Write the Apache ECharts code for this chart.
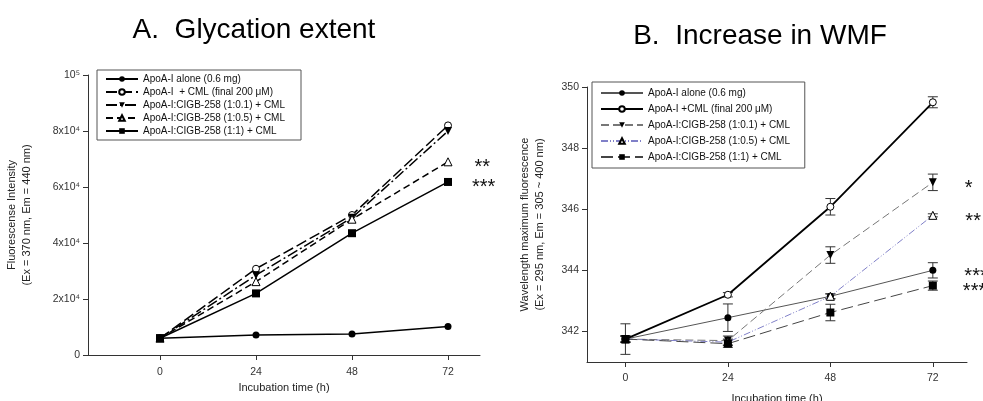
<!DOCTYPE html>
<html>
<head>
<meta charset="utf-8">
<script src="https://cdn.jsdelivr.net/npm/echarts@6/dist/echarts.min.js"></script>
<style>
  html, body { margin: 0; padding: 0; background: #fff; }
  #chart { width: 983px; height: 401px; }
</style>
</head>
<body>
<div id="chart"></div>
<script>
// incubation times (h)
var times = [0, 24, 48, 72];

// A. glycation extent (fluorescence intensity)
var namesA = [
  'ApoA-I alone (0.6 mg)',
  'ApoA-I  + CML (final 200 μM)',
  'ApoA-I:CIGB-258 (1:0.1) + CML',
  'ApoA-I:CIGB-258 (1:0.5) + CML',
  'ApoA-I:CIGB-258 (1:1) + CML'
];
var aloneA = [6000, 7100, 7500, 10200];
var cmlA = [6000, 30800, 50000, 82000];
var cigb01A = [6000, 28500, 49000, 80000];
var cigb05A = [6000, 26200, 48500, 69000];
var cigb1A = [6000, 22000, 43500, 61800];
var starsA = ['', '', '', '**', '***'];

// B. increase in WMF (wavelength maximum fluorescence, nm)
var namesB = [
  'ApoA-I alone (0.6 mg) ',
  'ApoA-I +CML (final 200 μM)',
  'ApoA-I:CIGB-258 (1:0.1) + CML ',
  'ApoA-I:CIGB-258 (1:0.5) + CML ',
  'ApoA-I:CIGB-258 (1:1) + CML '
];
var aloneB = [341.75, 342.45, 343.15, 344.0];
var cmlB = [341.75, 343.2, 346.08, 349.5];
var cigb01B = [341.75, 341.7, 344.5, 346.88];
var cigb05B = [341.75, 341.65, 343.15, 345.8];
var cigb1B = [341.75, 341.6, 342.62, 343.5];
var aloneErrB = [0.5, 0.45, 0.08, 0.25];
var cmlErrB = [0.1, 0.07, 0.27, 0.18];
var cigb01ErrB = [0.1, 0.15, 0.27, 0.27];
var cigb05ErrB = [0.1, 0.1, 0.08, 0.05];
var cigb1ErrB = [0.1, 0.12, 0.27, 0.15];
var starsB = ['***', '', '*', '**', '***'];

var yTicksA = [0, 20000, 40000, 60000, 80000, 100000];
var yTickLabelsA = ['0', '2x10⁴', '4x10⁴', '6x10⁴', '8x10⁴', '10⁵'];
var yTicksB = [342, 344, 346, 348, 350];

var FONT = 'Liberation Sans, Arial, sans-serif';

function pts(vals, star, dist) {
  return times.map(function (t, i) {
    var d = { value: [t, vals[i]] };
    if (star && i === times.length - 1) {
      d.label = {
        show: true, position: 'right', distance: dist, formatter: star,
        fontSize: 20, color: '#111', fontFamily: FONT, offset: [0, 6]
      };
    }
    return d;
  });
}

function errData(vals, errs) {
  return times.map(function (t, i) { return [t, vals[i], errs[i]]; });
}

function renderErr(params, api) {
  var x = api.value(0), y = api.value(1), e = api.value(2);
  var top = api.coord([x, y + e]);
  var bot = api.coord([x, y - e]);
  var w = 5;
  var st = { stroke: '#333', lineWidth: 1 };
  return {
    type: 'group',
    children: [
      { type: 'line', shape: { x1: top[0], y1: top[1], x2: bot[0], y2: bot[1] }, style: st },
      { type: 'line', shape: { x1: top[0] - w, y1: top[1], x2: top[0] + w, y2: top[1] }, style: st },
      { type: 'line', shape: { x1: bot[0] - w, y1: bot[1], x2: bot[0] + w, y2: bot[1] }, style: st }
    ]
  };
}

var axisCommon = {
  axisLine: { show: true, onZero: false, lineStyle: { color: '#333', width: 1 } },
  axisTick: { show: true, length: 5, lineStyle: { color: '#333' } },
  axisLabel: { color: '#333', fontSize: 10.5, fontFamily: FONT },
  splitLine: { show: false },
  nameTextStyle: { color: '#222', fontSize: 11, fontFamily: FONT }
};

function axis(extra) {
  return echarts.util.merge(echarts.util.clone(axisCommon), extra, true);
}

var openStyle = { color: '#fff', borderColor: '#000', borderWidth: 1 };

var chart = echarts.init(document.getElementById('chart'));
chart.setOption({
  animation: false,
  textStyle: { fontFamily: FONT },
  graphic: [
    { type: 'text', x: 254, y: 30, style: { text: 'A.  Glycation extent', font: '28px ' + FONT, fill: '#000', align: 'center', verticalAlign: 'middle' } },
    { type: 'text', x: 760, y: 36, style: { text: 'B.  Increase in WMF', font: '28px ' + FONT, fill: '#000', align: 'center', verticalAlign: 'middle' } }
  ],
  grid: [
    { left: 88, top: 75, width: 392, height: 280, outerBoundsMode: 'none', containLabel: false },
    { left: 587, top: 87, width: 380, height: 275, outerBoundsMode: 'none', containLabel: false }
  ],
  legend: [
    {
      data: namesA, left: 97, top: 70, orient: 'vertical',
      itemWidth: 32, itemHeight: 7, itemGap: 3,
      padding: [4, 16, 4, 8],
      borderColor: '#555', borderWidth: 1, selectedMode: false,
      textStyle: { fontSize: 10, color: '#111', fontFamily: FONT }
    },
    {
      data: namesB, left: 592, top: 82, orient: 'vertical',
      itemWidth: 42, itemHeight: 7, itemGap: 6,
      padding: [6, 12, 6, 8],
      borderColor: '#555', borderWidth: 1, selectedMode: false,
      textStyle: { fontSize: 10, color: '#111', fontFamily: FONT }
    }
  ],
  xAxis: [
    axis({
      type: 'value', gridIndex: 0, min: -18, max: 80,
      name: 'Incubation time (h)', nameLocation: 'middle', nameGap: 27,
      axisTick: { customValues: times }, axisLabel: { customValues: times, margin: 12 }
    }),
    axis({
      type: 'value', gridIndex: 1, min: -9, max: 80,
      name: 'Incubation time (h)', nameLocation: 'middle', nameGap: 31,
      axisTick: { customValues: times }, axisLabel: { customValues: times, margin: 11 }
    })
  ],
  yAxis: [
    axis({
      type: 'value', gridIndex: 0, min: 0, max: 100000,
      name: 'Fluorescense Intensity\n(Ex = 370 nm, Em = 440 nm)',
      nameLocation: 'middle', nameGap: 54,
      nameTextStyle: { lineHeight: 15 },
      axisTick: { customValues: yTicksA },
      axisLabel: {
        customValues: yTicksA,
        formatter: function (v) { return yTickLabelsA[yTicksA.indexOf(v)]; }
      }
    }),
    axis({
      type: 'value', gridIndex: 1, min: 341, max: 350,
      name: 'Wavelength maximum fluorescence\n(Ex = 295 nm, Em = 305 ~ 400 nm)',
      nameLocation: 'middle', nameGap: 40,
      nameTextStyle: { lineHeight: 15 },
      axisTick: { customValues: yTicksB },
      axisLabel: { customValues: yTicksB }
    })
  ],
  series: [
    // ---- A ----
    { name: namesA[0], type: 'line', xAxisIndex: 0, yAxisIndex: 0, data: pts(aloneA, starsA[0], 22),
      symbol: 'circle', symbolSize: 7, itemStyle: { color: '#000' }, lineStyle: { color: '#000', width: 1.5 } },
    { name: namesA[1], type: 'line', xAxisIndex: 0, yAxisIndex: 0, data: pts(cmlA, starsA[1], 22),
      symbol: 'circle', symbolSize: 7, itemStyle: openStyle, lineStyle: { color: '#000', width: 1.5, type: [11, 4] } },
    { name: namesA[2], type: 'line', xAxisIndex: 0, yAxisIndex: 0, data: pts(cigb01A, starsA[2], 22),
      symbol: 'triangle', symbolRotate: 180, symbolSize: 8, itemStyle: { color: '#000' },
      lineStyle: { color: '#000', width: 1.5, type: [11, 3, 2, 3] } },
    { name: namesA[3], type: 'line', xAxisIndex: 0, yAxisIndex: 0, data: pts(cigb05A, starsA[3], 22),
      symbol: 'triangle', symbolSize: 8, itemStyle: openStyle, lineStyle: { color: '#000', width: 1.5, type: [7, 4] } },
    { name: namesA[4], type: 'line', xAxisIndex: 0, yAxisIndex: 0, data: pts(cigb1A, starsA[4], 20),
      symbol: 'rect', symbolSize: 8, itemStyle: { color: '#000' }, lineStyle: { color: '#000', width: 1.5 } },

    // ---- B error bars ----
    { type: 'custom', xAxisIndex: 1, yAxisIndex: 1, renderItem: renderErr, data: errData(aloneB, aloneErrB), z: 1 },
    { type: 'custom', xAxisIndex: 1, yAxisIndex: 1, renderItem: renderErr, data: errData(cmlB, cmlErrB), z: 1 },
    { type: 'custom', xAxisIndex: 1, yAxisIndex: 1, renderItem: renderErr, data: errData(cigb01B, cigb01ErrB), z: 1 },
    { type: 'custom', xAxisIndex: 1, yAxisIndex: 1, renderItem: renderErr, data: errData(cigb05B, cigb05ErrB), z: 1 },
    { type: 'custom', xAxisIndex: 1, yAxisIndex: 1, renderItem: renderErr, data: errData(cigb1B, cigb1ErrB), z: 1 },

    // ---- B ----
    { name: namesB[0], type: 'line', xAxisIndex: 1, yAxisIndex: 1, data: pts(aloneB, starsB[0], 28),
      symbol: 'circle', symbolSize: 7, itemStyle: { color: '#000' }, lineStyle: { color: '#555', width: 1 } },
    { name: namesB[1], type: 'line', xAxisIndex: 1, yAxisIndex: 1, data: pts(cmlB, starsB[1], 28),
      symbol: 'circle', symbolSize: 7, itemStyle: openStyle, lineStyle: { color: '#000', width: 1.8 } },
    { name: namesB[2], type: 'line', xAxisIndex: 1, yAxisIndex: 1, data: pts(cigb01B, starsB[2], 28),
      symbol: 'triangle', symbolRotate: 180, symbolSize: 8, itemStyle: { color: '#000' },
      lineStyle: { color: '#777', width: 1, type: [8, 4] } },
    { name: namesB[3], type: 'line', xAxisIndex: 1, yAxisIndex: 1, data: pts(cigb05B, starsB[3], 28),
      symbol: 'triangle', symbolSize: 8, itemStyle: openStyle,
      lineStyle: { color: '#8080c8', width: 1, type: [7, 2, 1, 2, 1, 2] } },
    { name: namesB[4], type: 'line', xAxisIndex: 1, yAxisIndex: 1, data: pts(cigb1B, starsB[4], 26),
      symbol: 'rect', symbolSize: 8, itemStyle: { color: '#000' },
      lineStyle: { color: '#444', width: 1, type: [12, 5] } }
  ]
});
</script>
</body>
</html>
